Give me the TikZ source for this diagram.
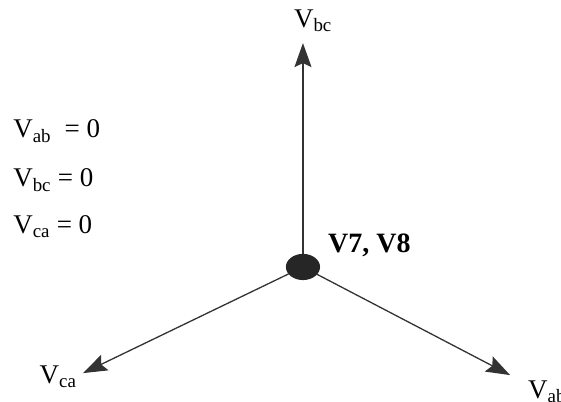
\documentclass[tikz,border=0pt]{standalone}
\usepackage{fontspec}
\setmainfont{Liberation Serif}
\usetikzlibrary{arrows.meta,shapes.geometric}

\newcommand{\vname}[1]{V\textsubscript{#1}}

\begin{document}
\begin{tikzpicture}[line cap=round, line join=round,
    every node/.style={font=\fontsize{27}{31}\selectfont, inner sep=0pt},
    vec/.style={draw=black!80, line width=1.3pt, -{Stealth[length=24pt, width=17pt, inset=4pt]}}]
  \useasboundingbox (-10.65,-4.745) rectangle (9.07,9.385);

  \node[ellipse, fill=black!85, minimum width=1.2cm, minimum height=0.92cm] (dot) at (0,0) {};
  \coordinate (bc) at (0,7.87);
  \coordinate (ca) at (-7.73,-3.73);
  \coordinate (ab) at (7.28,-3.80);
  \draw[vec] (dot) -- (bc);
  \draw[vec] (dot) -- (ca);
  \draw[vec] (dot) -- (ab);

  \node (lbc) at (0.35,8.65) {\vname{bc}};
  \node (lca) at (-8.61,-3.87) {\vname{ca}};
  \node[anchor=west] (lab) at (7.91,-4.39) {\vname{ab}};
  \node[anchor=west, font=\fontsize{28}{32}\selectfont\bfseries] (vv) at (0.88,0.77) {V7, V8};

  \node[anchor=west] (zab) at (-10.19,4.78) {\vname{ab}\ \ = 0};
  \node[anchor=west] (zbc) at (-10.19,3.06) {\vname{bc} = 0};
  \node[anchor=west] (zca) at (-10.19,1.41) {\vname{ca} = 0};
\end{tikzpicture}
\end{document}
